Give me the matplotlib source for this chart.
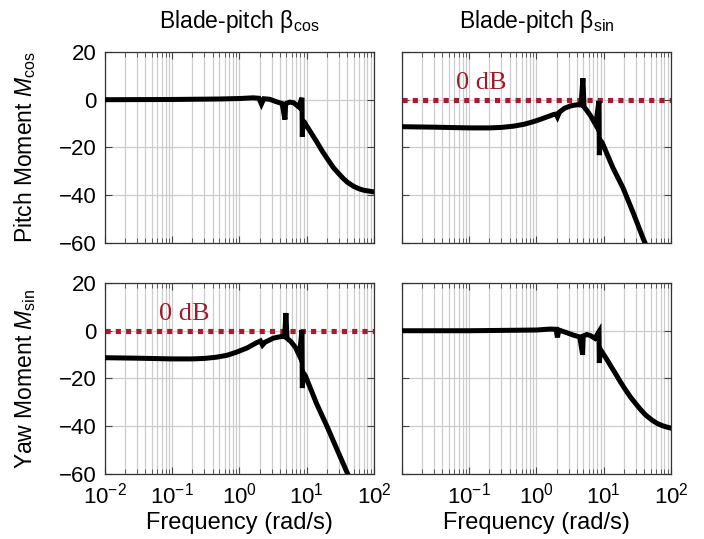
import numpy as np
import matplotlib
matplotlib.use("Agg")
import matplotlib.pyplot as plt
from matplotlib.ticker import LogLocator, NullFormatter

plt.rcParams["font.family"] = ["Liberation Sans", "DejaVu Sans"]
plt.rcParams["mathtext.fontset"] = "custom"
plt.rcParams["mathtext.rm"] = "Liberation Sans"
plt.rcParams["mathtext.it"] = "Liberation Sans:italic"
plt.rcParams["mathtext.sf"] = "Liberation Sans"

# magnitude (dB), one list per input/output pair
freq_cos_cos = [0.01, 0.1, 0.5, 1.0, 1.6, 1.95, 2.12, 2.3, 2.8, 3.5, 4.3, 4.75, 4.85,
                5.0, 5.6, 6.4, 7.6, 8.5, 8.6, 8.8, 9.2, 10, 12, 14, 17, 20, 25, 30, 35,
                40, 50, 60, 70, 85, 100]
mag_cos_cos = [0.0, 0.1, 0.3, 0.5, 0.8, 0.6, -1.8, 0.4, 0.2, -0.8, -1.6, -8.3, -2.0,
               -1.5, -1.0, -1.3, -3.0, 0.8, -15.5, -9.0, -9.3, -11.0, -14.5, -17.5,
               -21.5, -24.5, -28.5, -31.0, -33.0, -34.5, -36.3, -37.3, -37.9, -38.3,
               -38.6]

freq_sin_cos = [0.01, 0.03, 0.1, 0.2, 0.3, 0.45, 0.65, 0.9, 1.2, 1.5, 1.8, 1.95, 2.05,
                2.2, 2.6, 3.2, 4.0, 4.6, 4.9, 5.1, 5.6, 6.4, 7.6, 8.5, 8.6, 8.9, 9.5,
                13.7, 19.4, 27.3, 38.8, 60, 100]
mag_sin_cos = [-11.3, -11.5, -11.8, -11.8, -11.6, -11.1, -10.3, -9.2, -8.0, -7.0, -6.2,
               -6.0, -7.2, -5.2, -3.6, -2.6, -2.1, -2.2, 9.0, -3.0, -4.5, -6.8, -10.5,
               -0.5, -23.2, -17.0, -18.0, -28.5, -37.0, -47.2, -58.3, -70.8, -85.4]

freq_cos_sin = [0.01, 0.03, 0.1, 0.2, 0.3, 0.45, 0.65, 0.9, 1.3, 1.8, 2.05, 2.2, 2.4,
                3.2, 4.2, 4.7, 4.9, 5.1, 5.8, 6.8, 7.8, 8.5, 8.6, 8.9, 9.6, 14, 20, 28,
                40, 60, 100]
mag_cos_sin = [-11.3, -11.5, -11.8, -11.8, -11.6, -11.1, -10.3, -9.0, -7.2, -5.0, -4.3,
               -6.0, -4.8, -3.1, -2.4, -2.5, 7.4, -3.2, -4.5, -7.0, -10.5, 0.3, -24.0,
               -17.6, -19.0, -30.5, -40.0, -49.5, -59.5, -71.0, -85.0]

freq_sin_sin = [0.01, 0.1, 0.5, 1.0, 1.6, 1.95, 2.05, 2.15, 2.8, 3.5, 4.4, 4.85, 4.95,
                5.6, 6.3, 7.4, 8.5, 8.6, 8.9, 9.4, 11, 13, 14.7, 17.5, 20.9, 25, 30, 35,
                42, 52, 62, 75, 88, 100]
mag_sin_sin = [0.0, 0.0, 0.2, 0.3, 0.7, 0.6, -2.8, 0.3, -0.8, -1.8, -2.6, -10.0, -2.2,
               -1.6, -2.0, -3.2, -0.4, -13.5, -7.8, -8.8, -11.8, -15.2, -17.6, -21.2,
               -24.6, -27.8, -30.6, -32.9, -35.3, -37.4, -38.8, -39.8, -40.4, -40.8]

col_titles = [r"Blade-pitch β$_{\mathrm{cos}}$", r"Blade-pitch β$_{\mathrm{sin}}$"]
row_labels = [r"Pitch Moment $M_{\mathrm{cos}}$", r"Yaw Moment $M_{\mathrm{sin}}$"]
xtick_vals = [1e-2, 1e-1, 1e0, 1e1, 1e2]
xtick_labels = [r"$10^{-2}$", r"$10^{-1}$", r"$10^{0}$", r"$10^{1}$", r"$10^{2}$"]
ytick_vals = [-60, -40, -20, 0, 20]

crimson = "#A51C30"

fig = plt.figure(figsize=(7.04, 5.39), dpi=100)
lefts = [0.1491, 0.5710]
bottoms = [0.5492, 0.1206]
w, h = 0.3821, 0.3544

curves = [[(freq_cos_cos, mag_cos_cos), (freq_sin_cos, mag_sin_cos)],
          [(freq_cos_sin, mag_cos_sin), (freq_sin_sin, mag_sin_sin)]]
zero_db = [[False, True], [True, False]]

for r in range(2):
    for c in range(2):
        ax = fig.add_axes([lefts[c], bottoms[r], w, h])
        ax.set_xscale("log")
        ax.set_xlim(1e-2, 1e2)
        ax.set_ylim(-60, 20)
        ax.set_yticks(ytick_vals)

        ax.xaxis.set_minor_locator(LogLocator(base=10, subs=np.arange(2, 10), numticks=100))
        ax.xaxis.set_minor_formatter(NullFormatter())
        ax.grid(True, which="both", color="#cccccc", lw=0.9)
        ax.set_axisbelow(True)
        ax.tick_params(which="both", direction="in", top=True, right=True,
                       color="#444444", labelsize=16, pad=6)
        ax.tick_params(which="major", length=5, width=0.8)
        ax.tick_params(which="minor", length=3.5, width=0.6)
        for s in ax.spines.values():
            s.set_color("#333333")
            s.set_linewidth(0.9)

        if zero_db[r][c]:
            ax.axhline(0, color=crimson, lw=3.7, ls=(0, (1, 1)),
                       dash_capstyle="butt", zorder=2)
            ax.text(0.15, 2.6, "0 dB", color="#A01A2C", fontsize=19,
                    family="Liberation Serif", ha="center", va="bottom")

        f, m = curves[r][c]
        ax.plot(f, m, color="black", lw=3.6, solid_joinstyle="miter", zorder=3)

        if r == 1:
            labels = list(xtick_labels)
            if c == 1:
                labels[0] = ""
            ax.set_xticks(xtick_vals, labels)
            ax.set_xlabel("Frequency (rad/s)", fontsize=17)
            ax.xaxis.set_label_coords(0.5, -0.2)
        else:
            ax.set_xticks(xtick_vals, [""] * 5)
            ax.set_title(col_titles[c], fontsize=16.5, pad=17)
        if c == 0:
            ax.set_ylabel(row_labels[r], fontsize=16.5)
            ax.yaxis.set_label_coords(-0.25, 0.5)
        else:
            ax.set_yticklabels([])

fig.savefig("out.png", dpi=100)
